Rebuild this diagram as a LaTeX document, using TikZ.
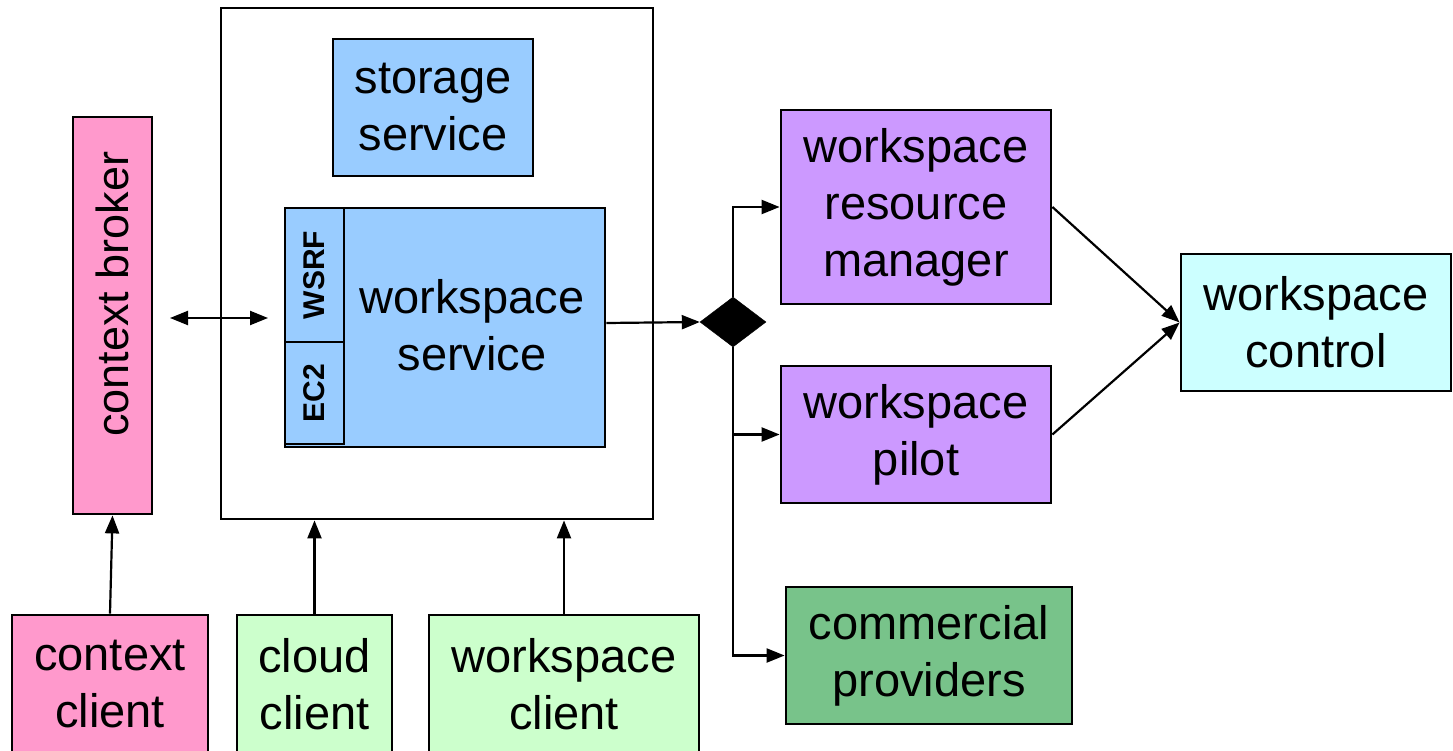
\documentclass[tikz,border=0pt]{standalone}
\usepackage{fontspec}
\setmainfont{Liberation Sans}
\usetikzlibrary{arrows.meta,shapes.geometric}
\definecolor{cpink}{RGB}{255,153,204}
\definecolor{cgreen}{RGB}{204,255,204}
\definecolor{cblue}{RGB}{153,204,255}
\definecolor{cpurple}{RGB}{204,153,255}
\definecolor{ccyan}{RGB}{204,255,255}
\definecolor{cdark}{RGB}{120,195,138}
\tikzset{
  box/.style={draw=black,line width=2.8pt,inner sep=0pt,align=center,
    font=\fontsize{47}{57}\selectfont},
  tag/.style={box,font=\fontsize{30}{36}\selectfont\bfseries},
  conn/.style={line width=2.2pt,-{Triangle[length=18pt,width=14pt]}},
  dconn/.style={line width=2.2pt,{Triangle[length=18pt,width=14pt]}-{Triangle[length=18pt,width=14pt]}},
}
\begin{document}
\begin{tikzpicture}[x=1pt,y=-1pt]
\useasboundingbox (0,0) rectangle (1453,751);
% outer container
\node[box,minimum width=432pt,minimum height=511pt] (outer) at (437,263.5) {};
\node[box,fill=cblue,minimum width=200pt,minimum height=137pt] (storage) at (433,107.5) {storage\\service};
\node[box,fill=cblue,minimum width=320pt,minimum height=239pt] (wss) at (445,327.5) {};
\node[align=center,inner sep=0pt,font=\fontsize{47}{57}\selectfont] (wsstext) at (472,325) {workspace\\service};
\node[tag,fill=cblue,minimum width=59pt,minimum height=134pt] (wsrf) at (314.5,275) {\rotatebox{90}{WSRF}};
\node[tag,fill=cblue,minimum width=59pt,minimum height=102pt] (ec2) at (314.5,393) {\rotatebox{90}{EC2}};
% left side
\node[box,fill=cpink,minimum width=79pt,minimum height=397pt] (broker) at (112.5,315.5) {};
\node[inner sep=0pt,rotate=90,font=\fontsize{45}{54}\selectfont] (brokertext) at (112.5,294) {context broker};
\node[box,fill=cpink,minimum width=196pt,minimum height=138pt] (cclient) at (110,684) {context\\client};
\node[box,fill=cgreen,minimum width=155pt,minimum height=138pt] (cloud) at (314.5,684) {cloud\\client};
\node[box,fill=cgreen,minimum width=270pt,minimum height=138pt] (wclient) at (564,684) {workspace\\client};
% right side
\node[diamond,fill=black,draw=black,inner sep=0pt,minimum width=66pt,minimum height=50pt] (dia) at (733,322) {};
\node[box,fill=cpurple,minimum width=270pt,minimum height=194pt] (wrm) at (916,207) {workspace\\resource\\manager};
\node[box,fill=cpurple,minimum width=270pt,minimum height=137pt] (pilot) at (916,434.5) {workspace\\pilot};
\node[box,fill=cdark,minimum width=286pt,minimum height=137pt] (comm) at (929,655.5) {commercial\\providers};
\node[box,fill=ccyan,minimum width=270pt,minimum height=137pt] (wc) at (1316,322.5) {workspace\\control};
% connectors
\coordinate (dl) at (170,318);
\coordinate (dr) at (268,318);
\draw[dconn] (dl) -- (dr);
\draw[conn] (cclient.north) -- (broker.south);
\draw[conn] (cloud.north) -- (cloud.north |- outer.south);
\draw[conn] (wclient.north) -- (wclient.north |- outer.south);
\draw[conn] ([yshift=4.5pt]wss.east) -- (dia.west);
\draw[conn] (dia.north) |- (wrm.west);
\draw[conn] (dia.south) |- (pilot.west);
\draw[conn] (dia.south) |- (comm.west);
\draw[conn] (wrm.east) -- (wc.west);
\draw[conn] (pilot.east) -- (wc.west);
\end{tikzpicture}
\end{document}
